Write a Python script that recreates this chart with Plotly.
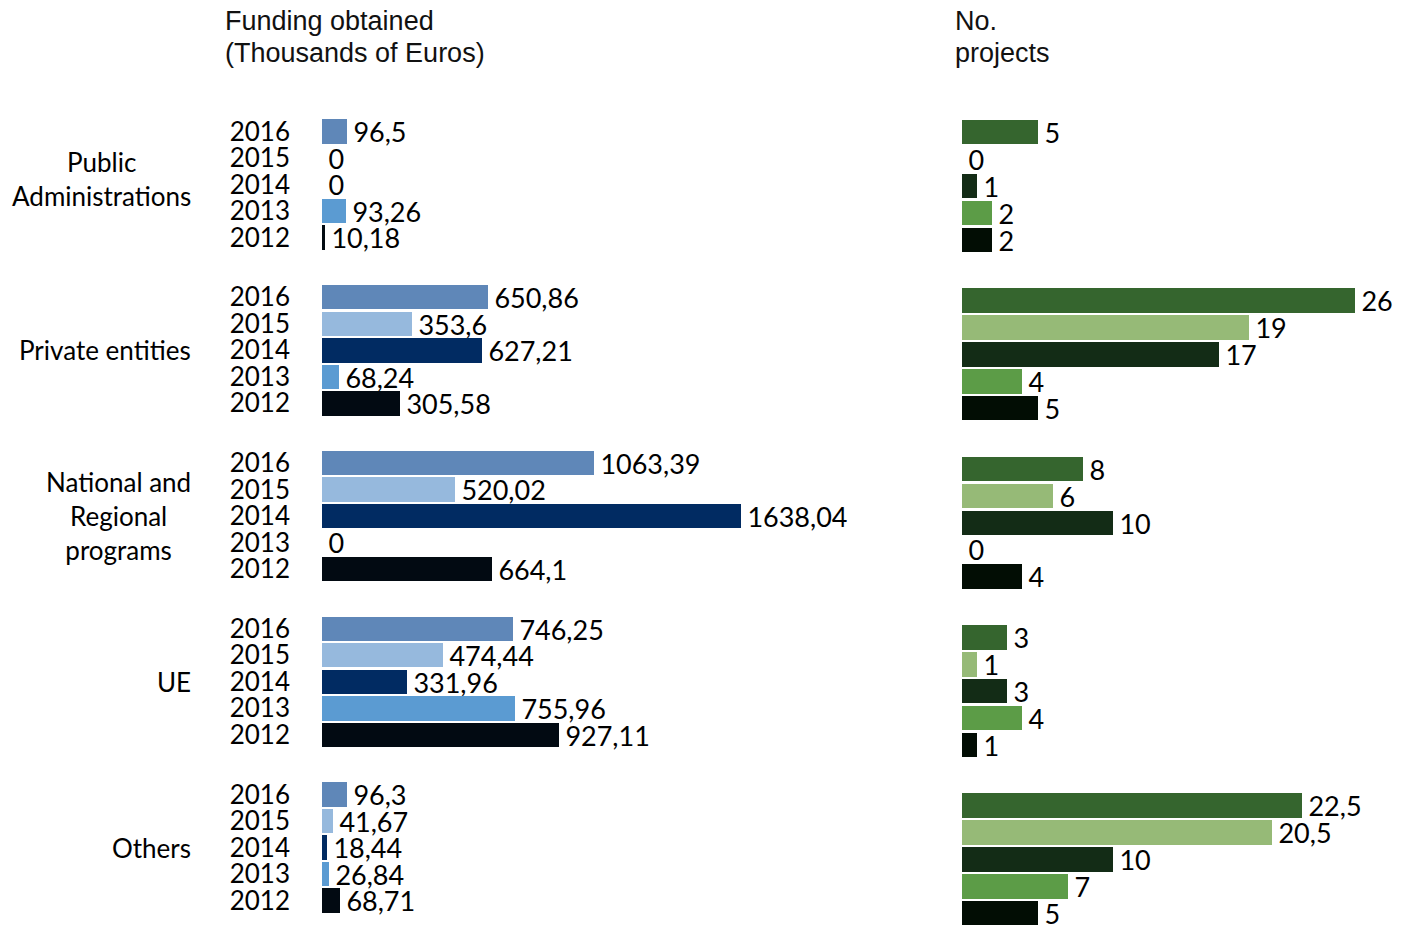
import plotly.graph_objects as go

groups = ["Public<br>Administrations", "Private entities",
          "National and<br>Regional<br>programs", "UE", "Others"]
years = ["2016", "2015", "2014", "2013", "2012"]

# funding obtained (thousands of euros), one list per year, in group order
funding_2016 = [96.5, 650.86, 1063.39, 746.25, 96.3]
funding_2015 = [0, 353.6, 520.02, 474.44, 41.67]
funding_2014 = [0, 627.21, 1638.04, 331.96, 18.44]
funding_2013 = [93.26, 68.24, 0, 755.96, 26.84]
funding_2012 = [10.18, 305.58, 664.1, 927.11, 68.71]

# number of projects
projects_2016 = [5, 26, 8, 3, 22.5]
projects_2015 = [0, 19, 6, 1, 20.5]
projects_2014 = [1, 17, 10, 3, 10]
projects_2013 = [2, 4, 0, 4, 7]
projects_2012 = [2, 5, 4, 1, 5]

funding = [funding_2016, funding_2015, funding_2014, funding_2013, funding_2012]
projects = [projects_2016, projects_2015, projects_2014, projects_2013, projects_2012]

blues = ["#5f87b8", "#96b9dd", "#012b62", "#5b9bd2", "#020a12"]
greens = ["#35652e", "#96ba77", "#132c16", "#5c9c47", "#020d04"]

GROUP_STEP = 6.25
FONT = "Lato, sans-serif"
HEAD_FONT = "Liberation Sans, Arial, sans-serif"


def fmt(v):
    # decimal comma, small gap before the label
    return "\u2009" + f"{v:g}".replace(".", ",")


fig = go.Figure()
tickvals, ticktext = [], []
for i, yr in enumerate(years):
    ypos = [g * GROUP_STEP + i for g in range(len(groups))]
    tickvals += ypos
    ticktext += [yr] * len(groups)
    fig.add_trace(go.Bar(
        x=funding[i], y=ypos, orientation="h", width=0.92,
        marker=dict(color=blues[i], line=dict(width=0)),
        text=[fmt(v) for v in funding[i]], textposition="outside",
        constraintext="none", cliponaxis=False,
        textfont=dict(size=27, color="#000000", family=FONT),
        xaxis="x", yaxis="y", showlegend=False, hoverinfo="skip"))
    fig.add_trace(go.Bar(
        x=projects[i], y=ypos, orientation="h", width=0.91,
        marker=dict(color=greens[i], line=dict(width=0)),
        text=[fmt(v) for v in projects[i]], textposition="outside",
        constraintext="none", cliponaxis=False,
        textfont=dict(size=27, color="#000000", family=FONT),
        xaxis="x2", yaxis="y2", showlegend=False, hoverinfo="skip"))

annotations = []
for g, name in enumerate(groups):
    annotations.append(dict(
        text=name, x=-0.1249, xref="paper", xanchor="right",
        y=g * GROUP_STEP + 2, yref="y", yanchor="middle",
        align="center", showarrow=False, yshift=6 if g == 0 else 0,
        font=dict(size=26, color="#000000", family=FONT)))

# column headers, one annotation per line
headers = [("Funding obtained", -0.0959, 1.0958),
           ("(Thousands of Euros)", -0.0959, 1.057),
           ("No.", 0.6108, 1.0958),
           ("projects", 0.6108, 1.057)]
for txt, hx, hy in headers:
    annotations.append(dict(
        text=txt, x=hx, xref="paper", xanchor="left",
        y=hy, yref="paper", yanchor="middle", showarrow=False,
        font=dict(size=27, color="#111111", family=HEAD_FONT)))

# page body adds an 8px offset, so margins are shifted by 8px
fig.update_layout(
    width=1410, height=925,
    margin=dict(l=314, r=63, t=92, b=8),
    paper_bgcolor="white", plot_bgcolor="white",
    barmode="overlay", bargap=0,
    annotations=annotations,
    xaxis=dict(domain=[0, 0.5], range=[0, 2020], visible=False, fixedrange=True),
    xaxis2=dict(domain=[0.6196, 1], range=[0, 26], visible=False, fixedrange=True),
    yaxis=dict(anchor="x", range=[29.92, -1.188], tickvals=tickvals, ticktext=ticktext,
               showgrid=False, zeroline=False, showline=False, ticks="",
               ticklabelstandoff=31,
               tickfont=dict(size=26, color="#000000", family=FONT)),
    yaxis2=dict(anchor="x2", range=[29.425, -1.187], showticklabels=False,
                showgrid=False, zeroline=False, showline=False, ticks=""),
)

fig.write_html("out.html")
